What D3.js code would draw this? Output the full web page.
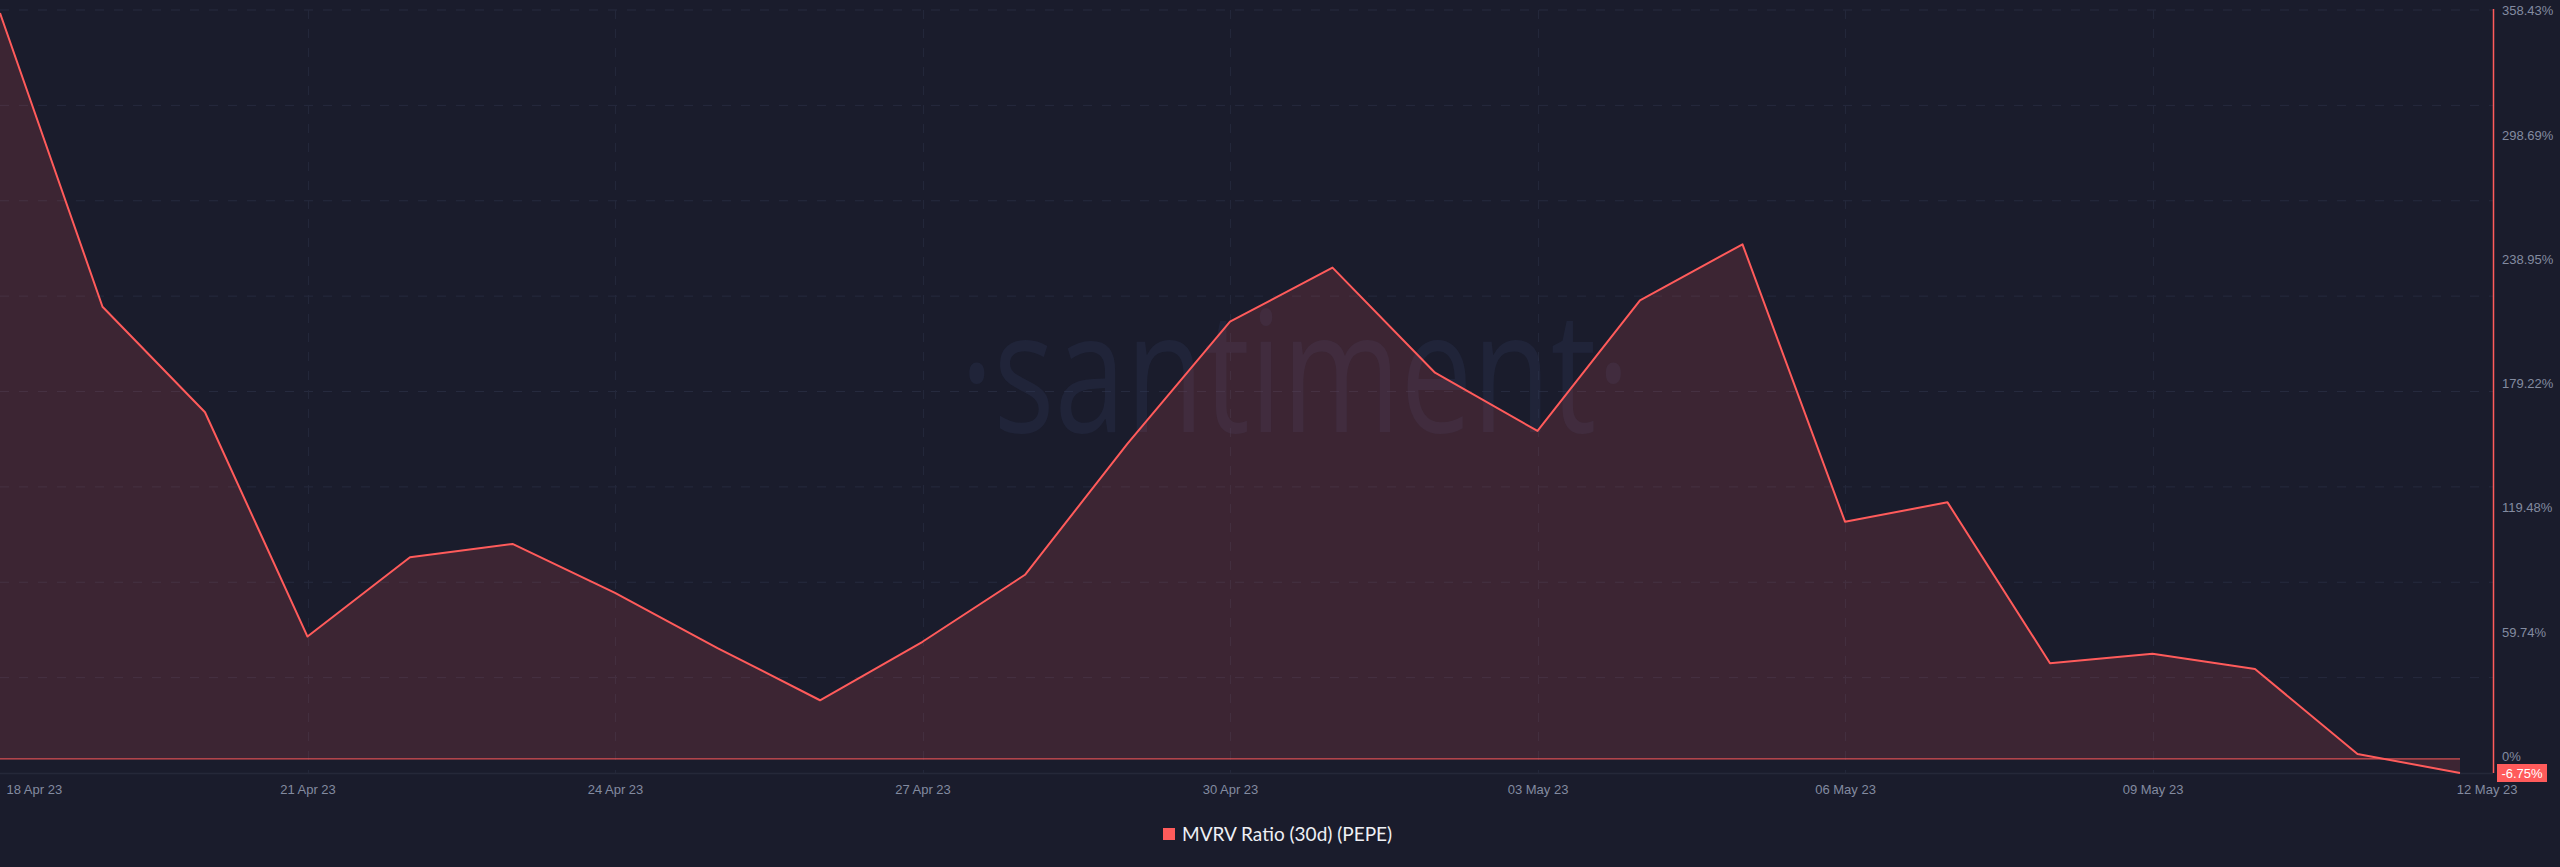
<!DOCTYPE html>
<html>
<head>
<meta charset="utf-8">
<script src="https://cdn.jsdelivr.net/npm/d3@7/dist/d3.min.js"></script>
<style>
  html, body { margin: 0; padding: 0; background: #1a1c2c; overflow: hidden; }
  svg { display: block; }
</style>
</head>
<body>
<svg id="chart" width="2560" height="867"></svg>
<script>
// ---- data ----
const dates = [
  "2023-04-18","2023-04-19","2023-04-20","2023-04-21","2023-04-22","2023-04-23","2023-04-24",
  "2023-04-25","2023-04-26","2023-04-27","2023-04-28","2023-04-29","2023-04-30","2023-05-01",
  "2023-05-02","2023-05-03","2023-05-04","2023-05-05","2023-05-06","2023-05-07","2023-05-08",
  "2023-05-09","2023-05-10","2023-05-11","2023-05-12"
];
const mvrv = [
  358.43, 217.3, 166.6, 58.8, 96.9, 103.3, 79.8,
  53.3, 28.2, 56.3, 88.5, 151.5, 210.1, 236.1,
  185.6, 157.6, 220.4, 247.3, 114.0, 123.3, 46.0,
  50.5, 43.2, 2.4, -6.75
];
const xTickDates = ["2023-04-18","2023-04-21","2023-04-24","2023-04-27","2023-04-30","2023-05-03","2023-05-06","2023-05-09","2023-05-12"];
const xTickLabels = ["18 Apr 23","21 Apr 23","24 Apr 23","27 Apr 23","30 Apr 23","03 May 23","06 May 23","09 May 23","12 May 23"];
const yTicks = [0, 59.74, 119.48, 179.22, 238.95, 298.69, 358.43];
const yTickLabels = ["0%","59.74%","119.48%","179.22%","238.95%","298.69%","358.43%"];
const seriesName = "MVRV Ratio (30d) (PEPE)";
const lastLabel = "-6.75%";

// ---- setup ----
const W = 2560, H = 867;
const plotTop = 10, plotBottom = 773, plotLeft = 0, dataRight = 2460, axisX = 2493;
const RED = "#ff5b5b";
const BG = "#1a1c2c";
const GRID = "#262a3e";
const TXT = "#838ba0";

const parse = d3.utcParse("%Y-%m-%d");
const data = dates.map((d, i) => ({ date: parse(d), v: mvrv[i] }));

const svg = d3.select("#chart");
svg.append("rect").attr("width", W).attr("height", H).attr("fill", BG);

const x = d3.scaleUtc()
  .domain(d3.extent(data, d => d.date))
  .range([plotLeft, dataRight]);
const y = d3.scaleLinear()
  .domain([d3.min(mvrv), d3.max(mvrv)])
  .range([plotBottom, 13]);

// horizontal grid (evenly spaced, independent of tick labels)
const gridY = d3.scaleLinear().domain([0, 8]).range([plotBottom, plotTop]);
svg.append("g").selectAll("line")
  .data(d3.range(1, 9))
  .join("line")
  .attr("x1", 0).attr("x2", axisX)
  .attr("y1", d => gridY(d)).attr("y2", d => gridY(d))
  .attr("stroke", GRID).attr("stroke-width", 1)
  .attr("stroke-dasharray", "9,10");

// vertical grid at tick dates
svg.append("g").selectAll("line")
  .data(xTickDates.slice(1, -1).map(parse))
  .join("line")
  .attr("x1", d => Math.round(x(d)) + 0.5).attr("x2", d => Math.round(x(d)) + 0.5)
  .attr("y1", plotTop).attr("y2", plotBottom)
  .attr("stroke", "#23273a").attr("stroke-width", 1)
  .attr("stroke-dasharray", "9,10");

// watermark
svg.append("text")
  .attr("x", 1295).attr("y", 432)
  .attr("text-anchor", "middle")
  .attr("font-family", "'Open Sans', 'DejaVu Sans', sans-serif")
  .attr("font-size", 168)
  .attr("font-weight", 400)
  .attr("textLength", 670)
  .attr("lengthAdjust", "spacingAndGlyphs")
  .attr("fill", "rgba(48,56,90,0.30)")
  .text("·santiment·");

// x-axis baseline (dark)
svg.append("line")
  .attr("x1", 0).attr("x2", axisX)
  .attr("y1", plotBottom + 0.5).attr("y2", plotBottom + 0.5)
  .attr("stroke", "#252839").attr("stroke-width", 1.5);

// area
const area = d3.area()
  .x(d => x(d.date))
  .y0(y(0))
  .y1(d => y(d.v));
svg.append("path")
  .datum(data)
  .attr("d", area)
  .attr("fill", "rgba(255,91,91,0.15)");

// zero baseline
svg.append("line")
  .attr("x1", x(data[0].date)).attr("x2", x(data[data.length - 1].date))
  .attr("y1", y(0)).attr("y2", y(0))
  .attr("stroke", RED).attr("stroke-opacity", 0.8).attr("stroke-width", 1.2);

// line
const line = d3.line()
  .x(d => x(d.date))
  .y(d => y(d.v));
svg.append("path")
  .datum(data)
  .attr("d", line)
  .attr("fill", "none")
  .attr("stroke", RED)
  .attr("stroke-width", 2)
  .attr("stroke-linejoin", "round");

// right axis line (series colour)
svg.append("line")
  .attr("x1", axisX + 0.5).attr("x2", axisX + 0.5)
  .attr("y1", plotTop - 1).attr("y2", plotBottom)
  .attr("stroke", RED).attr("stroke-width", 1.5);

// y axis
const yAxis = d3.axisRight(y)
  .tickValues(yTicks)
  .tickFormat((d, i) => yTickLabels[i])
  .tickSize(0)
  .tickPadding(9);
const gy = svg.append("g").attr("transform", `translate(${axisX},0)`).call(yAxis);
gy.select(".domain").remove();
gy.selectAll("text")
  .attr("y", -2.5)
  .attr("fill", TXT)
  .attr("font-family", "'Liberation Sans', Arial, sans-serif")
  .attr("font-size", 13);

// x axis
const xAxis = d3.axisBottom(x)
  .tickValues(xTickDates.map(parse))
  .tickFormat((d, i) => xTickLabels[i])
  .tickSize(0)
  .tickPadding(9);
const gx = svg.append("g").attr("transform", `translate(0,${plotBottom})`).call(xAxis);
gx.select(".domain").remove();
gx.selectAll("text")
  .attr("fill", TXT)
  .attr("font-family", "'Liberation Sans', Arial, sans-serif")
  .attr("font-size", 13)
  .attr("dy", "0.9em");
const xTexts = gx.selectAll("text").nodes();
d3.select(xTexts[0]).attr("text-anchor", "start").attr("x", 6);
d3.select(xTexts[xTexts.length - 1]).attr("text-anchor", "end").attr("x", 57);

// last-value badge
const lastY = y(mvrv[mvrv.length - 1]);
svg.append("rect")
  .attr("x", axisX + 4).attr("y", lastY - 9)
  .attr("width", 50).attr("height", 18)
  .attr("fill", RED);
svg.append("text")
  .attr("x", axisX + 29).attr("y", lastY)
  .attr("dy", "0.35em")
  .attr("text-anchor", "middle")
  .attr("fill", "#ffffff")
  .attr("font-family", "'Liberation Sans', Arial, sans-serif")
  .attr("font-size", 13)
  .text(lastLabel);

// legend
const lg = svg.append("g").attr("transform", "translate(1163,828)");
lg.append("rect").attr("width", 12).attr("height", 12).attr("fill", RED);
lg.append("text")
  .attr("x", 19).attr("y", 6)
  .attr("dy", "0.35em")
  .attr("fill", "#eef0f5")
  .attr("font-family", "Lato, 'Open Sans', sans-serif")
  .attr("font-size", 19)
  .text(seriesName);
</script>
</body>
</html>
